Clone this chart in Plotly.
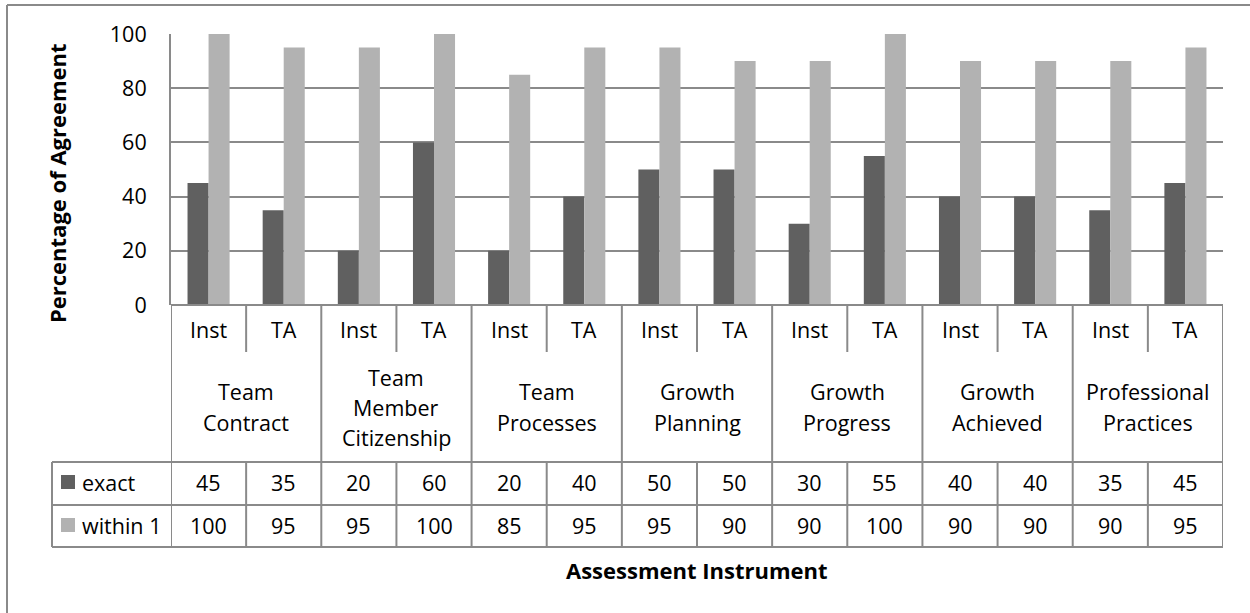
import plotly.graph_objects as go

# Assessment instruments (two raters per instrument)
groups = ["Team\nContract", "Team\nMember\nCitizenship", "Team\nProcesses",
          "Growth\nPlanning", "Growth\nProgress", "Growth\nAchieved",
          "Professional\nPractices"]
raters = ["Inst", "TA"]
exact = [45, 35, 20, 60, 20, 40, 50, 50, 30, 55, 40, 40, 35, 45]
within_1 = [100, 95, 95, 100, 85, 95, 95, 90, 90, 100, 90, 90, 90, 95]
series_names = ["exact", "within 1"]
y_ticks = [0, 20, 40, 60, 80, 100]

DARK = "#606060"
LIGHT = "#b2b2b2"
LINE = "#8a8a8a"
FONT = "Open Sans"

W, H = 1250, 613
L, R, T, B = 171, 1223, 34, 305          # plot area in pixels
n = len(exact)
xs = list(range(n))


def px(xpix):
    return (xpix - L) / (R - L)


def py(ypix):
    return (B - ypix) / (B - T)


fig = go.Figure()
fig.add_bar(x=xs, y=exact, name=series_names[0], marker_color=DARK,
            marker_line_width=0)
fig.add_bar(x=xs, y=within_1, name=series_names[1], marker_color=LIGHT,
            marker_line_width=0)

shapes = []
annots = []


def hline(y_pix, x0, x1, xref="paper"):
    shapes.append(dict(type="line", xref=xref, yref="paper", x0=x0, x1=x1,
                       y0=py(y_pix), y1=py(y_pix),
                       line=dict(color=LINE, width=2)))


def vline(x, y0_pix, y1_pix, xref="x"):
    shapes.append(dict(type="line", xref=xref, yref="paper", x0=x, x1=x,
                       y0=py(y0_pix), y1=py(y1_pix),
                       line=dict(color=LINE, width=2)))


def label(x, y_pix, text, xref="x", xanchor="center", size=21.5, bold=False,
          angle=0):
    annots.append(dict(x=x, y=py(y_pix), xref=xref, yref="paper",
                       text=f"<b>{text}</b>" if bold else text,
                       showarrow=False, xanchor=xanchor, yanchor="middle",
                       textangle=angle,
                       font=dict(family=FONT, size=size, color="#000000")))


# outer chart frame (top and left edges)
shapes.append(dict(type="line", xref="paper", yref="paper",
                   x0=px(7), x1=px(1262), y0=py(5), y1=py(5),
                   line=dict(color=LINE, width=2)))
shapes.append(dict(type="line", xref="paper", yref="paper",
                   x0=px(7), x1=px(7), y0=py(5), y1=py(625),
                   line=dict(color=LINE, width=2)))

# category axis table
ROW_TOP = 462
ROW_MID = 505
ROW_BOT = 547
SUB_BOT = 352
LEG_L = 52

hline(B, 0, 1)
for yy in (ROW_TOP, ROW_MID, ROW_BOT):
    hline(yy, px(LEG_L), 1)
vline(px(LEG_L), ROW_TOP, ROW_BOT, xref="paper")
for g in range(len(groups) + 1):
    vline(2 * g - 0.5, B, ROW_BOT)
for g in range(len(groups)):
    vline(2 * g + 0.5, B, SUB_BOT)
    vline(2 * g + 0.5, ROW_TOP, ROW_BOT)

# rater labels
for i in xs:
    label(i, 329, raters[i % 2])

# instrument labels, one line at a time
LINE_GAP = 30
MID = 407
for g, name in enumerate(groups):
    lines = name.split("\n")
    top = MID - LINE_GAP * (len(lines) - 1) / 2
    for k, ln in enumerate(lines):
        label(2 * g + 0.5, top + k * LINE_GAP, ln)

# data rows
for row_y, vals in ((482, exact), (525, within_1)):
    for i in xs:
        label(i, row_y, str(vals[i]))

# legend keys inside the table
for row_y, name, col in ((482, series_names[0], DARK),
                         (525, series_names[1], LIGHT)):
    shapes.append(dict(type="rect", xref="paper", yref="paper",
                       x0=px(61), x1=px(75), y0=py(row_y - 7),
                       y1=py(row_y + 7), fillcolor=col, line_width=0))
    label(px(80), row_y, name, xref="paper", xanchor="left")

# axis titles
label(px(697), 570, "Assessment Instrument", xref="paper", size=22, bold=True)
label(px(57), 183, "Percentage of Agreement", xref="paper", size=22,
      bold=True, angle=-90)

fig.update_layout(
    width=W, height=H,
    margin=dict(l=L, r=W - R, t=T, b=H - B),
    paper_bgcolor="white", plot_bgcolor="white",
    barmode="group", bargap=0.44, bargroupgap=0,
    showlegend=False,
    shapes=shapes, annotations=annots,
    xaxis=dict(range=[-0.5, n - 0.5], showticklabels=False, showgrid=False,
               zeroline=False, showline=False, fixedrange=True),
    yaxis=dict(range=[0, 100], tickvals=y_ticks, ticks="",
               showgrid=True, gridcolor=LINE, gridwidth=2,
               zeroline=False, showline=True, linecolor=LINE, linewidth=2,
               tickfont=dict(family=FONT, size=21.5, color="#000000"),
               ticklabelstandoff=18, fixedrange=True),
)

fig.write_html("out.html", include_plotlyjs=True, config={"displayModeBar": False})
